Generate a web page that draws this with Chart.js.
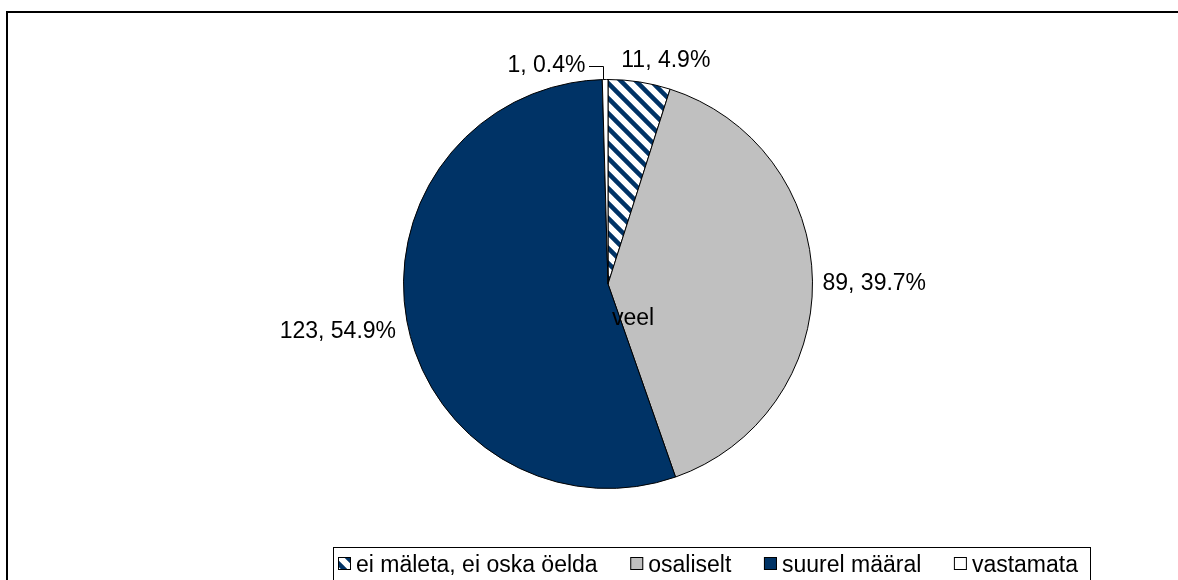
<!DOCTYPE html>
<html>
<head>
<meta charset="utf-8">
<script src="https://cdn.jsdelivr.net/npm/chart.js@4.4.1/dist/chart.umd.min.js"></script>
<style>
  html, body { margin: 0; padding: 0; background: #fff; }
  #wrap { position: relative; width: 1178px; height: 580px; overflow: hidden; }
  canvas { display: block; }
</style>
</head>
<body>
<div id="wrap"><canvas id="pie" width="1178" height="580"></canvas></div>
<script>
// Answer categories, counts and the series name
const categories = ['ei mäleta, ei oska öelda', 'osaliselt', 'suurel määral', 'vastamata'];
const counts = [11, 89, 123, 1];
const seriesName = 'veel';

const NAVY = '#003366';
const GRAY = '#c0c0c0';
const FONT = '23px "Liberation Sans", Arial, sans-serif';

const canvas = document.getElementById('pie');
const ctx = canvas.getContext('2d');

// Diagonal navy stripes on white for the first slice
function makeHatch() {
  const s = 15;
  const c = document.createElement('canvas');
  c.width = s; c.height = s;
  const g = c.getContext('2d');
  g.fillStyle = '#fff';
  g.fillRect(0, 0, s, s);
  g.strokeStyle = NAVY;
  g.lineWidth = 4.5;
  g.beginPath();
  for (const k of [-s, 0, s]) {
    g.moveTo(-5, -5 + k);
    g.lineTo(s + 5, s + 5 + k);
  }
  g.stroke();
  return ctx.createPattern(c, 'repeat');
}
const hatch = makeHatch();
const fills = [hatch, GRAY, NAVY, '#ffffff'];

const total = counts.reduce((a, b) => a + b, 0);
const labelText = counts.map(v => v + ', ' + (v / total * 100).toFixed(1) + '%');

// Small shifts for the outside labels; the last one hangs on a leader line
const labelShift = [
  { dx: 18, dy: -3 },
  { dx: 0, dy: 3 },
  { dx: -2, dy: 7 },
  { dx: -58, dy: 4, leader: true }
];

const framePlugin = {
  id: 'frame',
  beforeDraw(chart) {
    const c = chart.ctx;
    c.save();
    c.fillStyle = '#fff';
    c.fillRect(0, 0, chart.width, chart.height);
    c.strokeStyle = '#000';
    c.lineWidth = 2;
    c.strokeRect(7, 12, 1300, 700);
    c.restore();
  }
};

const labelPlugin = {
  id: 'sliceLabels',
  afterDatasetsDraw(chart) {
    const c = chart.ctx;
    const meta = chart.getDatasetMeta(0);
    c.save();
    c.font = FONT;
    c.fillStyle = '#000';
    c.textAlign = 'center';
    c.textBaseline = 'middle';
    let center = null;
    meta.data.forEach((arc, i) => {
      const p = arc.getProps(['x', 'y', 'startAngle', 'endAngle', 'outerRadius'], true);
      center = p;
      const mid = (p.startAngle + p.endAngle) / 2;
      const cs = Math.cos(mid), sn = Math.sin(mid);
      const ax = p.x + cs * (p.outerRadius + 10);
      const ay = p.y + sn * (p.outerRadius + 10);
      const txt = labelText[i];
      const w = c.measureText(txt).width;
      const h = 16;
      const sh = labelShift[i];
      const tx = ax + cs * w / 2 + sh.dx;
      const ty = ay + sn * h / 2 + sh.dy;
      c.fillText(txt, tx, ty);
      if (sh.leader) {
        const ex = p.x + cs * p.outerRadius - 2;
        const ey = p.y + sn * p.outerRadius;
        c.strokeStyle = '#000';
        c.lineWidth = 1;
        c.beginPath();
        c.moveTo(Math.round(tx + w / 2 + 4), Math.round(ty) + 0.5);
        c.lineTo(Math.round(ex) + 0.5, Math.round(ty) + 0.5);
        c.lineTo(Math.round(ex) + 0.5, ey);
        c.stroke();
      }
    });
    // series name sitting at the pie centre
    if (center) {
      c.textAlign = 'left';
      c.textBaseline = 'alphabetic';
      c.fillText(seriesName, center.x + 4, center.y + 41);
    }
    c.restore();
  }
};

const legendPlugin = {
  id: 'boxLegend',
  afterDraw(chart) {
    const c = chart.ctx;
    c.save();
    c.font = FONT;
    const boxL = 333, boxT = 547, boxR = 1090;
    c.fillStyle = '#fff';
    c.fillRect(boxL, boxT, boxR - boxL, 60);
    c.strokeStyle = '#000';
    c.lineWidth = 1;
    c.strokeRect(boxL + 0.5, boxT + 0.5, boxR - boxL, 60);
    const icon = 13, iconGap = 5;
    const startX = 338, endX = 1078;
    const widths = categories.map(t => c.measureText(t).width);
    const used = widths.reduce((a, b) => a + b, 0) + categories.length * (icon + iconGap);
    const gap = (endX - startX - used) / (categories.length - 1);
    let x = startX;
    categories.forEach((t, i) => {
      c.fillStyle = fills[i];
      c.fillRect(x, 557, icon, icon);
      c.strokeStyle = '#000';
      c.strokeRect(x + 0.5, 557.5, icon - 1, icon - 1);
      c.fillStyle = '#000';
      c.textBaseline = 'alphabetic';
      c.textAlign = 'left';
      c.fillText(t, x + icon + iconGap, 572);
      x += icon + iconGap + widths[i] + gap;
    });
    c.restore();
  }
};

new Chart(canvas, {
  type: 'pie',
  data: {
    labels: categories,
    datasets: [{
      label: seriesName,
      data: counts,
      backgroundColor: fills,
      borderColor: '#000',
      borderWidth: 1
    }]
  },
  options: {
    responsive: false,
    animation: false,
    events: [],
    layout: { padding: { top: 79, bottom: 91, left: 403, right: 365 } },
    plugins: {
      legend: { display: false },
      tooltip: { enabled: false },
      title: { display: false }
    }
  },
  plugins: [framePlugin, labelPlugin, legendPlugin]
});
</script>
</body>
</html>
